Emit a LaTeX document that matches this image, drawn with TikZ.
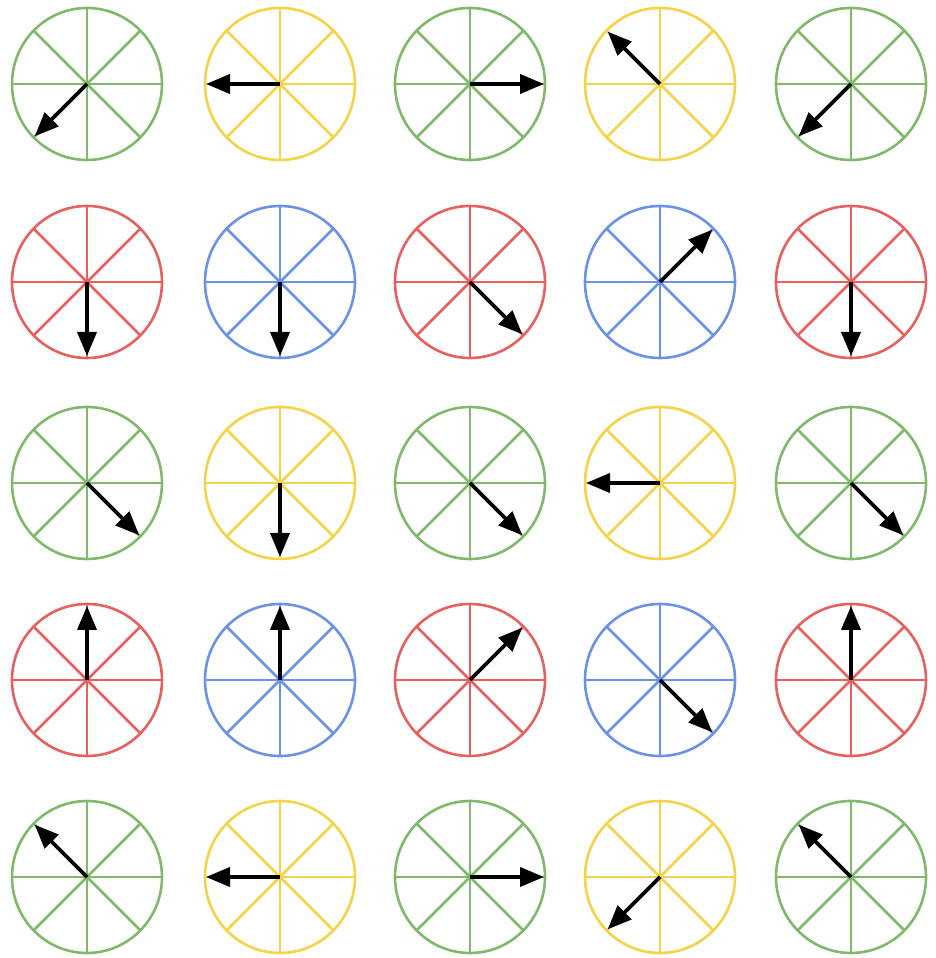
\documentclass[tikz,border=0pt]{standalone}
\usetikzlibrary{arrows.meta,calc}
\definecolor{cg}{RGB}{128,184,108}
\definecolor{cy}{RGB}{245,210,72}
\definecolor{cr}{RGB}{230,96,96}
\definecolor{cb}{RGB}{108,146,230}
\begin{document}
\begin{tikzpicture}[x=1pt,y=1pt,
  wheel/.style={line width=2.6pt},
  needle/.style={line width=3.8pt, black, -{Triangle[length=24pt,width=19pt]}}]
\useasboundingbox (0,0) rectangle (936,958);
\foreach \r/\yy in {1/84,2/282,3/483,4/680,5/877}{
  \foreach \c/\xx in {1/87,2/280,3/470,4/660,5/851}{
    \coordinate (c-\r-\c) at (\xx,958-\yy);
  }
}
\foreach \r/\c/\col/\ang in {
  1/1/cg/225, 1/2/cy/180, 1/3/cg/0,   1/4/cy/135, 1/5/cg/225,
  2/1/cr/270, 2/2/cb/270, 2/3/cr/315, 2/4/cb/45,  2/5/cr/270,
  3/1/cg/315, 3/2/cy/270, 3/3/cg/315, 3/4/cy/180, 3/5/cg/315,
  4/1/cr/90,  4/2/cb/90,  4/3/cr/45,  4/4/cb/315, 4/5/cr/90,
  5/1/cg/135, 5/2/cy/180, 5/3/cg/0,   5/4/cy/225, 5/5/cg/135}{
  \draw[wheel,\col] (c-\r-\c) ellipse[x radius=75,y radius=76];
  \foreach \a in {0,45,90,135}{
    \draw[wheel,\col] ($(c-\r-\c)+(\a:75)$) -- ($(c-\r-\c)+(\a+180:75)$);
  }
  \coordinate (t-\r-\c) at ($(c-\r-\c)+(\ang:74)$);
  \draw[needle] (c-\r-\c) -- (t-\r-\c);
}
\end{tikzpicture}
\end{document}
